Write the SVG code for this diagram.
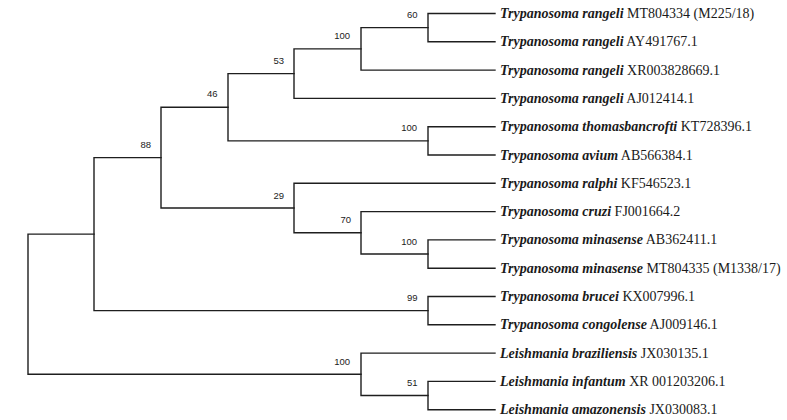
<svg xmlns="http://www.w3.org/2000/svg" width="787" height="420" viewBox="0 0 787 420">
<style>
.br{fill:none;stroke:#1e1e1e;stroke-width:1.4;stroke-linecap:square}
.bs{font-family:"Liberation Sans",Arial,sans-serif;font-size:9.5px;fill:#222;text-anchor:end}
.tx{font-family:"Liberation Serif","Times New Roman",serif;font-size:14px;fill:#1a1a1a}
.sp{font-weight:bold;font-style:italic}
</style>
<rect width="787" height="420" fill="#fff"/>
<g id="connectors">
<path class="br" d="M495,13.5H428V41.8H495"/>
<path class="br" d="M428,27.65H361V70.1H495"/>
<path class="br" d="M361,48.9H294V98.4H495"/>
<path class="br" d="M495,126.7H428V155H495"/>
<path class="br" d="M294,73.65H228V140.85H428"/>
<path class="br" d="M495,239.9H428V268.2H495"/>
<path class="br" d="M495,211.6H361V254.05H428"/>
<path class="br" d="M495,183.3H294V232.8H361"/>
<path class="br" d="M228,107.25H161V208.05H294"/>
<path class="br" d="M495,296.5H428V324.8H495"/>
<path class="br" d="M161,157.65H94V310.65H428"/>
<path class="br" d="M495,381.4H428V409.7H495"/>
<path class="br" d="M495,353.1H361V395.55H428"/>
<path class="br" d="M94,234.15H28V374.3H361"/>
</g>
<g id="n60"><text class="bs" x="417.5" y="18.2">60</text></g>
<g id="n100a"><text class="bs" x="350" y="39.4">100</text></g>
<g id="n53"><text class="bs" x="284" y="64.2">53</text></g>
<g id="n100b"><text class="bs" x="417" y="131.4">100</text></g>
<g id="n46"><text class="bs" x="217.5" y="97">46</text></g>
<g id="n100c"><text class="bs" x="417" y="244.6">100</text></g>
<g id="n70"><text class="bs" x="351" y="223.3">70</text></g>
<g id="n29"><text class="bs" x="284" y="198.6">29</text></g>
<g id="n88"><text class="bs" x="151" y="148">88</text></g>
<g id="n99"><text class="bs" x="417.5" y="301.2">99</text></g>
<g id="n51"><text class="bs" x="417.5" y="386">51</text></g>
<g id="n100d"><text class="bs" x="350" y="364.8">100</text></g>
<g id="leaf1"><text class="tx" x="500" y="18"><tspan class="sp">Trypanosoma rangeli</tspan> MT804334 (M225/18)</text></g>
<g id="leaf2"><text class="tx" x="500" y="46.3"><tspan class="sp">Trypanosoma rangeli</tspan> AY491767.1</text></g>
<g id="leaf3"><text class="tx" x="500" y="74.6"><tspan class="sp">Trypanosoma rangeli</tspan> XR003828669.1</text></g>
<g id="leaf4"><text class="tx" x="500" y="102.9"><tspan class="sp">Trypanosoma rangeli</tspan> AJ012414.1</text></g>
<g id="leaf5"><text class="tx" x="500" y="131.2"><tspan class="sp">Trypanosoma thomasbancrofti</tspan> KT728396.1</text></g>
<g id="leaf6"><text class="tx" x="500" y="159.5"><tspan class="sp">Trypanosoma avium</tspan> AB566384.1</text></g>
<g id="leaf7"><text class="tx" x="500" y="187.8"><tspan class="sp">Trypanosoma ralphi</tspan> KF546523.1</text></g>
<g id="leaf8"><text class="tx" x="500" y="216.1"><tspan class="sp">Trypanosoma cruzi</tspan> FJ001664.2</text></g>
<g id="leaf9"><text class="tx" x="500" y="244.4"><tspan class="sp">Trypanosoma minasense</tspan> AB362411.1</text></g>
<g id="leaf10"><text class="tx" x="500" y="272.7"><tspan class="sp">Trypanosoma minasense</tspan> MT804335 (M1338/17)</text></g>
<g id="leaf11"><text class="tx" x="500" y="301"><tspan class="sp">Trypanosoma brucei</tspan> KX007996.1</text></g>
<g id="leaf12"><text class="tx" x="500" y="329.3"><tspan class="sp">Trypanosoma congolense</tspan> AJ009146.1</text></g>
<g id="leaf13"><text class="tx" x="500" y="357.6"><tspan class="sp">Leishmania braziliensis</tspan> JX030135.1</text></g>
<g id="leaf14"><text class="tx" x="500" y="385.9"><tspan class="sp">Leishmania infantum</tspan> XR 001203206.1</text></g>
<g id="leaf15"><text class="tx" x="500" y="414.2"><tspan class="sp">Leishmania amazonensis</tspan> JX030083.1</text></g>
</svg>
